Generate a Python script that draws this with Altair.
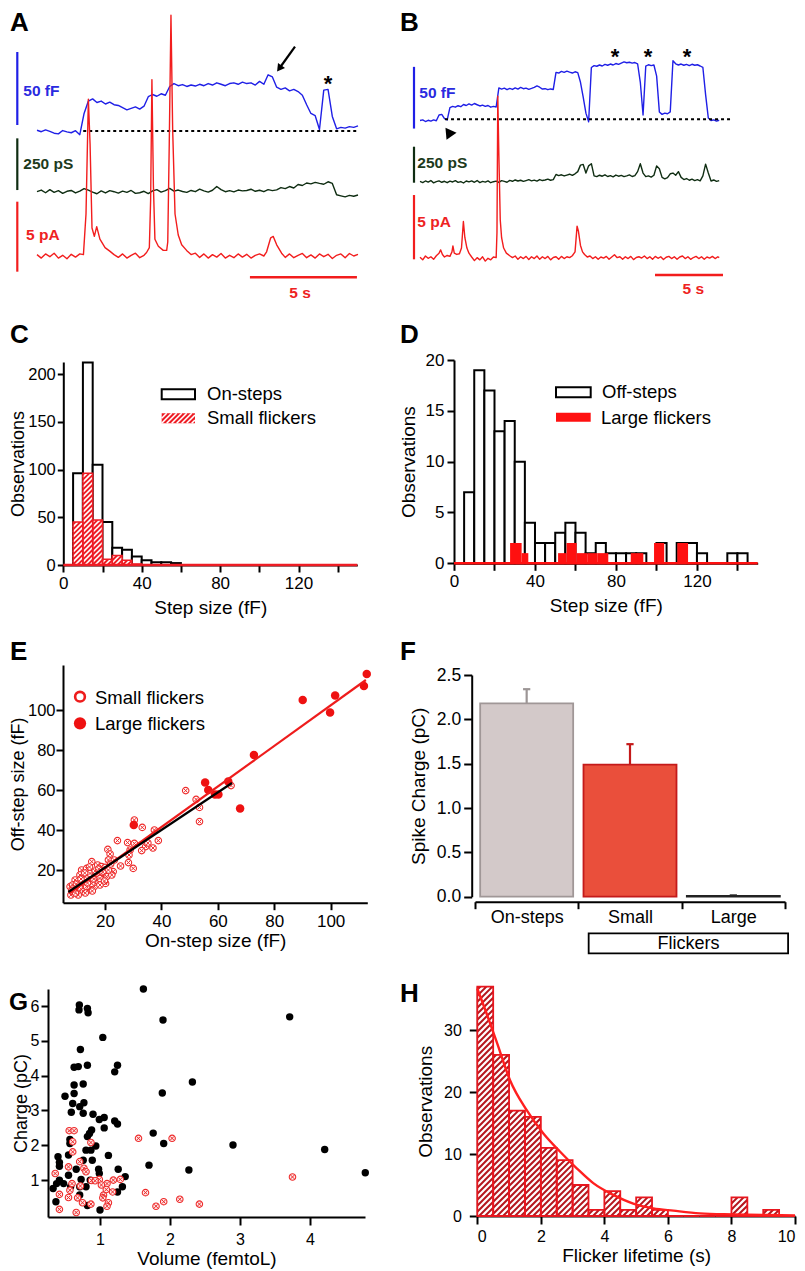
import math
import altair as alt
import pandas as pd

# ============================ DATA ============================
# ---- A : example recording, traces sampled every 0.2 s (0-15 s)
A_DT = 0.2
a_capacitance_fF = [0.5, -0.5, 0.8, -0.3, -1.5, -2.0, 0.3, -0.6, -1.2, 0.2,
                    -2.5, 12, 20.5, 22, 19.5, 20.5, 18.5, 19.8, 18, 17.5,
                    16, 14.5, 15.5, 16.5, 15, 17, 23.5, 25, 23.8, 25.5,
                    24.5, 30.5, 32.5, 31, 31.8, 30.5, 31.5, 30.8, 32, 31,
                    32.5, 31.5, 33, 32, 31, 32.5, 33, 32, 33.5, 32.5,
                    33, 31.5, 34, 32, 38.5, 37, 30, 28.5, 29.5, 27.5,
                    28.5, 27, 24.5, 18, 12, 10.5, 1, 28, 28.5, 10,
                    1.5, 2.5, 2, 3, 2.5, 3.5]
a_conductance_pS = [0, 8, -5, 10, -3, 5, -8, 2, 6, -6,
                    3, 15, 8, -2, -10, 4, -6, 5, 0, -7,
                    3, -3, 6, -8, -5, 2, -9, 4, 10, -2,
                    5, 16, 3, 8, 1, -3, 6, 0, 12, 4,
                    -2, 7, 25, 10, 0, 5, -1, 8, 4, 6,
                    12, 2, 7, 0, 10, 5, 9, 20, 15, 25,
                    18, 35, 30, 42, 38, 45, 40, 36, 48, 40,
                    -15, -20, -25, -18, -22, -16]
a_current_pts = [(0, 0.1), (0.2, -0.15), (0.4, 0.15), (0.6, -0.05), (0.8, 0.2), (1.0, -0.15),
                 (1.2, 0.05), (1.4, -0.2), (1.6, 0.12), (1.8, -0.08), (2.0, 0.15), (2.17, 0.1),
                 (2.29, 3.0), (2.40, 11.2), (2.48, 8.0), (2.57, 2.0), (2.68, 1.4), (2.79, 2.1),
                 (2.94, 1.2), (3.18, 0.6), (3.4, 0.35), (3.6, 0.1), (3.8, -0.1), (4.0, 0.15),
                 (4.2, -0.15), (4.4, 0.05), (4.6, 0.2), (4.8, -0.12), (5.0, 0.05), (5.12, 0.25),
                 (5.25, 0.6), (5.31, 4.0), (5.37, 12.6), (5.44, 5.0), (5.51, 1.2), (5.67, 0.7),
                 (5.9, 0.4), (6.06, 0.4), (6.11, 1.0), (6.18, 8.0), (6.26, 17.2), (6.34, 9.0),
                 (6.45, 3.0), (6.6, 1.5), (6.76, 0.8), (6.99, 0.4), (7.2, 0.1), (7.4, 0.2),
                 (7.6, -0.1), (7.8, 0.15), (8.0, -0.15), (8.2, 0.1), (8.4, -0.08), (8.6, 0.18),
                 (8.8, -0.15), (9.0, 0.05), (9.2, -0.12), (9.4, 0.15), (9.6, -0.08), (9.8, 0.12),
                 (10.0, -0.15), (10.2, 0.05), (10.4, 0.15), (10.6, 0.0), (10.73, 0.3), (10.92, 1.3),
                 (11.04, 1.4), (11.2, 0.8), (11.43, 0.2), (11.6, -0.1), (11.8, 0.15), (12.0, -0.12),
                 (12.2, 0.05), (12.4, 0.18), (12.6, -0.12), (12.8, 0.08), (13.0, -0.15), (13.2, 0.15),
                 (13.4, -0.05), (13.6, 0.12), (13.8, -0.18), (14.0, 0.05), (14.2, 0.15), (14.4, -0.12),
                 (14.6, 0.18), (14.8, 0.0), (15.0, 0.12)]
a_baseline_s = [2.16, 14.94]
a_timebar_s = [9.95, 14.95]

# ---- B : example recording, traces sampled every 0.2 s (0-22 s)
B_DT = 0.2
b_capacitance_fF = [-1, -0.5, -1.8, -0.8, -1.5, -0.5, -1.2, 3.5, 4, 0.5,
                    -0.5, 9.5, 10.5, 9.8, 11, 10.2, 12, 11.2, 12.5, 11.5,
                    12.8, 11.8, 10.8, 11.5, 10.5, 11.2, 9.8, 10.5, 10, 25.5,
                    24.5, 25.2, 24, 25, 24.2, 25.5, 24.5, 25.8, 24.8, 25.3,
                    24.3, 25, 25.8, 27, 26, 24.5, 24.8, 24, 24.6, 24.2,
                    38, 37.5, 38.8, 38, 39, 38.2, 37.5, 38.5, 37.8, 30,
                    18, 5, -2, 42, 43.5, 43, 44, 43.2, 44.5, 43.8,
                    44.8, 44, 45.2, 44.5, 45.5, 46.5, 45.8, 46.2, 45.5, 46,
                    45, 30, 3.5, 43, 44.2, 43.5, 44, 35, 6, 4,
                    5, 4.5, 6, 47.5, 45, 44, 44.8, 43.8, 44.5, 43.5,
                    44.6, 43.8, 44.2, 43.2, 42, 20, 1, -1, -0.5, -1.5, -0.8]
b_conductance_pS = [2, -6, 5, -3, 8, -8, 0, 6, -4, 3,
                    -7, 4, -2, 7, -5, 1, -9, 5, -1, 6,
                    -4, 8, -6, 2, -3, 6, -7, 0, 4, -5,
                    7, 2, -4, 9, 3, 12, 5, 10, 2, 8,
                    14, 6, 11, 4, 15, 8, 12, 18, 10, 14,
                    50, 42, 48, 40, 46, 52, 44, 55, 70, 115,
                    120, 60, 110, 125, 40, 35, 45, 38, 48, 36,
                    42, 34, 46, 38, 44, 35, 40, 47, 36, 42,
                    70, 125, 60, 35, 40, 32, 45, 110, 90, 30,
                    20, 28, 55, 60, 45, 70, 30, 15, 22, 10,
                    18, 8, 14, 6, 40, 122, 60, 5, 12, 2, 8]
b_current_pts = [(0, 0.08), (0.2, -0.12), (0.4, 0.18), (0.6, 0.0), (0.8, 0.12), (1.0, -0.08),
                 (1.2, 0.2), (1.4, 0.4), (1.52, 0.65), (1.65, 0.3), (1.8, 0.1), (2.0, 0.22),
                 (2.2, 0.15), (2.35, 0.5), (2.42, 0.96), (2.52, 0.4), (2.7, 0.3), (2.9, 0.35),
                 (3.05, 0.8), (3.19, 2.86), (3.3, 1.6), (3.45, 0.8), (3.6, 0.4), (3.8, 0.1),
                 (4.0, -0.18), (4.2, 0.05), (4.4, -0.12), (4.6, 0.12), (4.8, -0.22), (5.0, 0.0),
                 (5.2, -0.12), (5.4, 0.1), (5.6, 0.05), (5.66, 2.0), (5.72, 12.6), (5.8, 8.0),
                 (5.9, 3.0), (6.0, 1.6), (6.15, 0.8), (6.35, 0.4), (6.6, 0.2), (6.8, 0.05),
                 (7.0, 0.18), (7.2, -0.08), (7.4, 0.12), (7.6, -0.02), (7.8, 0.15), (8.0, -0.1),
                 (8.2, 0.12), (8.4, -0.02), (8.6, 0.18), (8.8, -0.08), (9.0, 0.12), (9.2, -0.02),
                 (9.4, 0.15), (9.6, -0.12), (9.8, 0.06), (10.0, 0.12), (10.2, -0.08), (10.4, 0.15),
                 (10.6, -0.02), (10.8, 0.12), (11.0, 0.05), (11.2, 0.2), (11.4, 0.5), (11.55, 2.5),
                 (11.65, 2.1), (11.8, 1.0), (11.95, 0.5), (12.1, 0.3), (12.3, 0.1), (12.5, 0.18),
                 (12.7, -0.02), (12.9, 0.12), (13.1, -0.08), (13.3, 0.1), (13.5, 0.02), (13.7, 0.15),
                 (13.9, -0.08), (14.1, 0.1), (14.3, 0.28), (14.5, 0.05), (14.7, 0.12), (14.9, -0.08),
                 (15.1, 0.12), (15.3, -0.02), (15.5, 0.15), (15.7, -0.1), (15.9, 0.06), (16.1, 0.12),
                 (16.3, 0.02), (16.5, 0.18), (16.7, -0.02), (16.9, 0.12), (17.1, -0.08), (17.3, 0.15),
                 (17.5, 0.0), (17.7, 0.12), (17.9, -0.1), (18.1, 0.08), (18.3, 0.15), (18.5, -0.02),
                 (18.7, 0.12), (18.9, -0.08), (19.1, 0.1), (19.3, 0.18), (19.5, -0.02), (19.7, 0.12),
                 (19.9, -0.08), (20.1, 0.06), (20.3, 0.15), (20.5, -0.02), (20.7, 0.12), (20.9, -0.08),
                 (21.1, 0.1), (21.3, 0.02), (21.5, 0.15), (21.7, -0.02), (21.9, 0.12), (22.0, 0.05)]
b_baseline_s = [1.84, 23.0]
b_timebar_s = [17.28, 22.28]

# ---- C : step-size histogram (5 fF bins from 0 to 150 fF)
c_bin_lo = list(range(0, 150, 5))
c_on_steps = [0, 96, 212, 105, 45, 18, 16, 9, 5, 3, 3, 2] + [0] * 18
c_small_flickers = [0, 45, 96, 47, 6, 10, 5, 1] + [0] * 22

# ---- D : off-step histogram and large flickers
d_bin_lo = list(range(0, 150, 5))
d_off_steps = [0, 7, 19, 17, 13, 14, 10, 4, 2, 2, 3, 4, 3, 1, 2,
               1, 1, 1, 1, 0, 2, 0, 2, 2, 1, 0, 0, 1, 1, 0]
d_large_lo = [27.7, 33.4, 51.4, 55.6, 60.6, 65.8, 71.0, 87.3, 98.8, 110.3]
d_large_hi = [33.4, 36.7, 55.6, 60.6, 65.8, 71.0, 76.2, 93.5, 103.8, 115.6]
d_large_n = [2, 1, 1, 2, 1, 1, 1, 1, 2, 2]

# ---- E : off-step vs on-step size
e_small_on = [48.6, 52.3, 53.5, 53.5, 64.7, 30.4, 33.2, 37.5, 38.9, 24.4, 28, 30.4, 34.4, 33,
              28.9, 28.5, 21, 21.8, 21.2, 23.3, 22.9, 20.2, 28.3, 30, 15.3, 17.4, 18.8, 20,
              11.7, 13.5, 11.1, 9.4, 7.6, 7.9, 10, 12.3, 14.1, 15.9, 17.6, 17, 19.4, 16.2,
              14.1, 12.3, 10.5, 18.2, 20.6, 22.4, 9.1, 12.9, 14.7, 13.5, 11.1, 18.2, 15.3, 21.2,
              8.5, 9.8, 10.8, 11.5, 12.8, 13.8, 14.5, 16.5, 17.8, 19.2, 16, 8.2, 9.5, 13,
              15.5, 19.8, 25.5, 22, 35.2, 37]
e_small_off = [59.7, 55.3, 51.3, 44.2, 62.2, 45, 41.3, 40, 34.7, 34.7, 33.7, 33.3, 31.7, 29.7,
               30, 27.5, 30.3, 28, 25, 25, 19.2, 13.3, 23.7, 20.8, 24.2, 22.5, 21.7, 21.3,
               20, 20.8, 17.5, 15, 11.7, 7.5, 10, 13.3, 15, 17.5, 18.3, 15, 17.5, 11.7,
               10, 9.2, 7.5, 15.8, 16.7, 17.5, 10.8, 16.7, 18.3, 11.7, 13.3, 12.5, 13.3, 20,
               12.5, 13, 11.5, 15.5, 18.5, 13.5, 21.5, 19.5, 20.5, 19, 15.5, 9.5, 8.5, 8.5,
               9.5, 14.5, 22, 23, 33.5, 31]
e_large_on = [30.2, 55.5, 56.6, 59.0, 60.2, 63.7, 67.9, 72.8, 90.1, 99.8, 101.6, 111.8, 112.8]
e_large_off = [42.5, 63.7, 60.0, 57.8, 57.8, 64.2, 50.8, 77.5, 105.0, 98.7, 107.2, 112.0, 118.0]
e_fit_all_x = [7.5, 112.5]
e_fit_all_y = [8.5, 115.0]
e_fit_small_x = [7.0, 65.0]
e_fit_small_y = [9.0, 63.5]

# ---- F : spike charge
f_groups = ["On-steps", "Small", "Large"]
f_mean = [2.18, 1.49, 0.01]
f_sem = [0.16, 0.23, 0.005]
f_bracket_label = "Flickers"

# ---- G : charge vs volume
g_black_vol = [1.62, 1.90, 3.71, 0.705, 0.70, 0.82, 0.83, 1.04, 0.72, 0.63, 0.69, 0.82, 1.21, 1.25,
               2.32, 0.63, 0.76, 0.63, 1.89, 0.50, 0.61, 0.77, 0.71, 0.59, 0.76, 0.90, 0.99, 1.06,
               1.21, 1.25, 1.06, 0.88, 0.85, 0.82, 1.76, 1.91, 2.90, 4.21, 0.57, 0.57, 0.94, 0.80,
               0.87, 0.89, 1.12, 0.55, 0.40, 0.42, 0.42, 0.76, 1.70, 2.27, 4.79, 0.55, 0.66, 0.98,
               0.99, 1.26, 1.36, 0.42, 0.48, 0.38, 0.33, 0.58, 0.71, 0.80, 0.86, 0.73, 1.32, 1.25,
               0.71, 0.37, 0.82, 1.00]
g_black_charge = [6.49, 5.60, 5.69, 6.03, 5.89, 5.93, 5.81, 5.10, 4.75, 4.24, 4.26, 4.30, 4.11, 4.30,
                  3.82, 3.73, 3.76, 3.49, 3.50, 3.41, 3.20, 3.22, 3.11, 2.95, 2.92, 2.89, 2.74, 2.80,
                  2.70, 2.61, 2.50, 2.44, 2.34, 2.25, 2.35, 2.05, 2.01, 1.88, 2.17, 2.05, 1.98, 1.86,
                  1.86, 1.57, 1.71, 1.72, 1.67, 1.51, 1.40, 1.57, 1.43, 1.29, 1.21, 1.14, 1.31, 1.31,
                  1.19, 1.31, 1.10, 1.00, 0.90, 0.90, 0.76, 0.81, 0.81, 0.81, 1.00, 1.02, 0.81, 0.66,
                  0.57, 0.38, 0.27, 0.14]
g_red_vol = [0.56, 0.63, 0.61, 0.87, 1.55, 2.03, 0.61, 0.55, 0.71, 0.77, 0.80, 0.36, 0.88, 0.99,
             0.93, 1.10, 1.02, 1.19, 1.29, 0.60, 0.72, 0.57, 0.42, 1.05, 1.04, 1.09, 1.18, 0.55,
             0.68, 0.75, 1.12, 1.10, 0.42, 0.66, 0.87, 1.65, 1.80, 1.91, 2.14, 2.42, 3.75]
g_red_charge = [2.42, 2.42, 2.10, 2.08, 2.20, 2.20, 1.81, 1.38, 1.53, 1.34, 1.24, 1.19, 0.99, 1.02,
                0.98, 0.90, 0.86, 1.00, 1.02, 0.90, 0.83, 0.71, 0.59, 0.57, 0.49, 0.73, 0.66, 0.50,
                0.49, 0.35, 0.35, 0.25, 0.16, 0.07, 0.31, 0.64, 0.25, 0.38, 0.45, 0.31, 1.09]

# ---- H : flicker lifetime histogram (0.5 s bins) and fitted curve
h_bin_lo = [0, 0.5, 1, 1.5, 2, 2.5, 3, 3.5, 4, 4.5, 5, 5.5, 6, 6.5, 7, 7.5, 8, 8.5, 9, 9.5]
h_counts = [37, 26, 17, 16, 11, 9, 5, 1, 4, 1, 3, 1, 0, 0, 0, 0, 3, 0, 1, 0]
h_fit_t = [0, 0.29, 0.61, 1.03, 1.55, 2.08, 2.6, 3.13, 3.65, 4.28, 4.91, 5.54, 6.17, 7.0, 8.06, 9.1, 10.0]
h_fit_n = [36.7, 32.7, 28.1, 21.9, 17.1, 13.3, 10.4, 7.7, 5.3, 3.4, 2.0, 1.24, 0.86, 0.43, 0.27, 0.16, 0.1]

# ============================ LAYOUT / STYLE ============================
OFF = 8                     # page margin
W, H = 789, 1263
FONT = "Liberation Sans"
BLUE, GREEN, RED = "#1f1fe6", "#0f2d12", "#f21d1d"
DUMMY = pd.DataFrame({"d": [0]})

GEO = {  # (domain, figure-pixel range)
    "A_x": ([0, 15], [37, 358]), "A_cap": ([0, 50], [131, 58]),
    "A_cond": ([0, 250], [191.7, 140]), "A_cur": ([0, 5], [256, 186]),
    "B_x": ([0, 22], [420, 719.2]), "B_cap": ([0, 50], [119.3, 57.6]),
    "B_cond": ([0, 250], [181.7, 145.7]), "B_cur": ([0, 5], [258.3, 194]),
    "C_x": ([0, 150], [63.3, 357.3]), "C_y": ([0, 212.6], [565, 362]),
    "D_x": ([0, 150], [454, 757.7]), "D_y": ([0, 20], [563.3, 360]),
    "E_x": ([5.1, 113], [63, 367.3]), "E_y": ([3.65, 122.5], [902.7, 665]),
    "F_x": ([0, 3], [475, 785]), "F_y": ([0, 2.5], [896.7, 675]),
    "G_x": ([0.257, 4.786], [48, 365]), "G_y": ([-0.06, 6.49], [1217, 989]),
    "H_x": ([0, 10], [477.3, 795]), "H_y": ([0, 37], [1216, 986.6]),
    "PX": ([0, 805], [0, 805]), "PY": ([0, 1271], [0, 1271]),
}


def P(v):
    return v - OFF


def S(key):
    dom, rng = GEO[key]
    return alt.Scale(domain=list(dom), range=[P(rng[0]), P(rng[1])], nice=False, zero=False)


def M(key):
    (d0, d1), (r0, r1) = GEO[key]
    return (lambda v: r0 + (v - d0) * (r1 - r0) / (d1 - d0),
            lambda p: d0 + (p - r0) * (d1 - d0) / (r1 - r0))


def yaxis(fig_x, title, values, tick=7, pad=3, tpad=6, lsize=17, tsize=19, fmt=None):
    kw = dict(orient="left", offset=-P(fig_x), values=values, title=title, tickSize=tick,
              labelPadding=pad, titlePadding=tpad, labelFontSize=lsize, titleFontSize=tsize,
              labelOverlap=False)
    if fmt:
        kw["format"] = fmt
    return alt.Axis(**kw)


def xaxis(fig_y, title, values, tick=7, pad=3, tpad=6, lsize=17, tsize=19, expr=None, loff=0,
          flush=False):
    kw = dict(orient="bottom", offset=P(fig_y) - H, values=values, tickSize=tick,
              labelPadding=pad, titlePadding=tpad, labelFontSize=lsize, titleFontSize=tsize,
              labelOverlap=False, labelFlush=flush)
    kw["title"] = title if title else None
    if expr:
        kw["labelExpr"] = expr
    if loff:
        kw["labelOffset"] = loff
    return alt.Axis(**kw)


def text(s, x, y, size=18, color="black", weight="normal", align="left", baseline="middle"):
    return alt.Chart(DUMMY).mark_text(text=s, font=FONT, fontSize=size, fontWeight=weight,
                                      color=color, align=align, baseline=baseline).encode(
        x=alt.value(P(x)), y=alt.value(P(y)))


def hatch_df(rects, xkey, ykey, period):
    fx, ix = M(xkey)
    fy, iy = M(ykey)
    rows = []
    for (x0, x1, y0, y1) in rects:
        X0, X1 = sorted((fx(x0), fx(x1)))
        Yt, Yb = sorted((fy(y0), fy(y1)))
        if Yb - Yt < 0.5:
            continue
        U0, U1 = -Yb, -Yt
        k0 = math.ceil((U0 - X1) / period)
        k1 = math.floor((U1 - X0) / period)
        for k in range(k0, k1 + 1):
            c = k * period
            xs, xe = max(X0, U0 - c), min(X1, U1 - c)
            if xe - xs > 0.4:
                rows.append(dict(hx=ix(xs), hy=iy(-(xs + c)), hx2=ix(xe), hy2=iy(-(xe + c))))
    return pd.DataFrame(rows)


def hatch_layer(df, xkey, ykey, width):
    return alt.Chart(df).mark_rule(color="white", strokeWidth=width, strokeCap="butt").encode(
        x=alt.X("hx:Q", scale=S(xkey), axis=None), y=alt.Y("hy:Q", scale=S(ykey), axis=None),
        x2="hx2:Q", y2="hy2:Q")


def line(df, xkey, ykey, color, w=1.4):
    return alt.Chart(df).mark_line(color=color, strokeWidth=w, strokeJoin="round").encode(
        x=alt.X("t:Q", scale=S(xkey), axis=None), y=alt.Y("v:Q", scale=S(ykey), axis=None))


def vbar(x_fig, lo, hi, ykey, color):
    return alt.Chart(DUMMY).mark_rule(color=color, strokeWidth=2.2).encode(
        x=alt.value(P(x_fig)), y=alt.YDatum(lo, scale=S(ykey), axis=None), y2=alt.Y2Datum(hi))


def hbar(lo, hi, xkey, y_fig, color):
    return alt.Chart(DUMMY).mark_rule(color=color, strokeWidth=2.5).encode(
        x=alt.XDatum(lo, scale=S(xkey), axis=None), x2=alt.X2Datum(hi), y=alt.value(P(y_fig)))


def dotted(lo, hi, xkey, ykey):
    return alt.Chart(DUMMY).mark_rule(color="black", strokeWidth=2, strokeDash=[3, 3]).encode(
        x=alt.XDatum(lo, scale=S(xkey), axis=None), x2=alt.X2Datum(hi),
        y=alt.YDatum(0, scale=S(ykey), axis=None))


def sampled(vals, dt):
    return pd.DataFrame({"t": [round(i * dt, 3) for i in range(len(vals))], "v": vals})


def pts(pairs):
    return pd.DataFrame({"t": [p[0] for p in pairs], "v": [p[1] for p in pairs]})


layers = []

# ---------------------------- A ----------------------------
layers += [
    line(sampled(a_capacitance_fF, A_DT), "A_x", "A_cap", BLUE),
    dotted(a_baseline_s[0], a_baseline_s[1], "A_x", "A_cap"),
    line(sampled(a_conductance_pS, A_DT), "A_x", "A_cond", GREEN),
    line(pts(a_current_pts), "A_x", "A_cur", RED),
    vbar(17.3, 4.1, 54.1, "A_cap", BLUE),
    vbar(17.3, 8, 258, "A_cond", GREEN),
    vbar(17.3, -1.12, 3.88, "A_cur", RED),
    hbar(a_timebar_s[0], a_timebar_s[1], "A_x", 277.3, RED),
    text("50 fF", 23.3, 91, 15.5, "#2a2ae0", "bold"),
    text("250 pS", 23.3, 164, 15.5, "#1d3b1d", "bold"),
    text("5 pA", 26, 235, 15.5, "#ee2222", "bold"),
    text("5 s", 300, 293, 15.5, "#ee2222", "bold", align="center"),
    text("*", 328, 91, 22, "black", "bold", align="center", baseline="alphabetic"),
    alt.Chart(DUMMY).mark_rule(color="black", strokeWidth=2.2).encode(
        x=alt.value(P(295)), y=alt.value(P(46.7)), x2=alt.value(P(280)), y2=alt.value(P(67.5))),
    alt.Chart(DUMMY).mark_point(shape="triangle-up", filled=True, color="black", size=75,
                                angle=216, opacity=1).encode(x=alt.value(P(279.3)), y=alt.value(P(68.5))),
]

# ---------------------------- B ----------------------------
layers += [
    line(sampled(b_capacitance_fF, B_DT), "B_x", "B_cap", BLUE),
    dotted(b_baseline_s[0], b_baseline_s[1], "B_x", "B_cap"),
    line(sampled(b_conductance_pS, B_DT), "B_x", "B_cond", GREEN),
    line(pts(b_current_pts), "B_x", "B_cur", RED),
    vbar(414, -7.5, 42.5, "B_cap", BLUE),
    vbar(414, -7, 243, "B_cond", GREEN),
    vbar(414, -0.08, 4.92, "B_cur", RED),
    hbar(b_timebar_s[0], b_timebar_s[1], "B_x", 275, RED),
    text("50 fF", 419.3, 93, 15.5, "#2a2ae0", "bold"),
    text("250 pS", 417.3, 163, 15.5, "#1d3b1d", "bold"),
    text("5 pA", 417.3, 222, 15.5, "#ee2222", "bold"),
    text("5 s", 693.3, 288.5, 15.5, "#ee2222", "bold", align="center"),
    text("*", 615, 64, 22, "black", "bold", align="center", baseline="alphabetic"),
    text("*", 648, 64, 22, "black", "bold", align="center", baseline="alphabetic"),
    text("*", 687, 64, 22, "black", "bold", align="center", baseline="alphabetic"),
    alt.Chart(DUMMY).mark_point(shape="triangle-up", filled=True, color="black", size=150,
                                angle=325, opacity=1).encode(x=alt.value(P(448.5)), y=alt.value(P(132))),
]

# ---------------------------- C ----------------------------
c_df = pd.DataFrame({"lo": c_bin_lo, "hi": [v + 5 for v in c_bin_lo],
                     "on": c_on_steps, "small": c_small_flickers})
c_small_df = c_df[c_df["small"] > 0]
layers += [
    alt.Chart(c_df[c_df["on"] > 0]).mark_rect(fill="white", stroke="black", strokeWidth=2).encode(
        x=alt.X("lo:Q", scale=S("C_x"), axis=xaxis(565, "Step size (fF)", list(range(0, 150, 20)),
                expr="datum.value % 40 === 0 ? datum.label : ''", pad=3.5, tpad=7)),
        x2="hi:Q",
        y=alt.Y("on:Q", scale=S("C_y"), axis=yaxis(63.3, "Observations", [0, 50, 100, 150, 200],
                                                  tick=6, pad=2, tpad=0, lsize=16.5, tsize=18)),
        y2=alt.Y2Datum(0)),
    alt.Chart(c_small_df).mark_rect(fill="#ee1c24").encode(
        x=alt.X("lo:Q", scale=S("C_x"), axis=None), x2="hi:Q",
        y=alt.Y("small:Q", scale=S("C_y"), axis=None), y2=alt.Y2Datum(0)),
    hatch_layer(hatch_df([(r.lo, r.hi, 0, r.small) for r in c_small_df.itertuples()], "C_x", "C_y", 5.0),
                "C_x", "C_y", 1.6),
    alt.Chart(c_small_df).mark_rect(fillOpacity=0, stroke="#ee1c24", strokeWidth=1.5).encode(
        x=alt.X("lo:Q", scale=S("C_x"), axis=None), x2="hi:Q",
        y=alt.Y("small:Q", scale=S("C_y"), axis=None), y2=alt.Y2Datum(0)),
    alt.Chart(DUMMY).mark_rule(color="#ee1c24", strokeWidth=2.5).encode(
        x=alt.XDatum(c_bin_lo[0], scale=S("C_x"), axis=None), x2=alt.X2Datum(c_bin_lo[-1] + 5),
        y=alt.YDatum(0, scale=S("C_y"), axis=None)),
    # legend
    alt.Chart(DUMMY).mark_rect(fill="white", stroke="black", strokeWidth=2).encode(
        x=alt.value(P(161.7)), x2=alt.value(P(195)), y=alt.value(P(389.3)), y2=alt.value(P(399.3))),
    alt.Chart(DUMMY).mark_rect(fill="#ee1c24").encode(
        x=alt.value(P(161.7)), x2=alt.value(P(195)), y=alt.value(P(413.3)), y2=alt.value(P(423.3))),
    hatch_layer(hatch_df([(161.7, 195, 413.3, 423.3)], "PX", "PY", 5.0), "PX", "PY", 1.6),
    text("On-steps", 207, 393.5, 18.5),
    text("Small flickers", 207, 418, 18.5),
]

# ---------------------------- D ----------------------------
d_df = pd.DataFrame({"lo": d_bin_lo, "hi": [v + 5 for v in d_bin_lo], "n": d_off_steps})
d_large_df = pd.DataFrame({"lo": d_large_lo, "hi": d_large_hi, "n": d_large_n})
layers += [
    alt.Chart(d_df[d_df["n"] > 0]).mark_rect(fill="white", stroke="black", strokeWidth=2).encode(
        x=alt.X("lo:Q", scale=S("D_x"), axis=xaxis(563.3, "Step size (fF)", list(range(0, 150, 20)),
                expr="datum.value % 40 === 0 ? datum.label : ''", pad=3, tpad=7)),
        x2="hi:Q",
        y=alt.Y("n:Q", scale=S("D_y"), axis=yaxis(454, "Observations", [0, 5, 10, 15, 20], tpad=7)),
        y2=alt.Y2Datum(0)),
    alt.Chart(d_large_df).mark_rect(fill="#ff1010").encode(
        x=alt.X("lo:Q", scale=S("D_x"), axis=None), x2="hi:Q",
        y=alt.Y("n:Q", scale=S("D_y"), axis=None), y2=alt.Y2Datum(0)),
    alt.Chart(DUMMY).mark_rule(color="#ff1010", strokeWidth=2.5).encode(
        x=alt.XDatum(d_bin_lo[0], scale=S("D_x"), axis=None), x2=alt.X2Datum(d_bin_lo[-1] + 5),
        y=alt.YDatum(0, scale=S("D_y"), axis=None)),
    alt.Chart(DUMMY).mark_rect(fill="white", stroke="black", strokeWidth=2).encode(
        x=alt.value(P(556)), x2=alt.value(P(590.7)), y=alt.value(P(387.3)), y2=alt.value(P(397.3))),
    alt.Chart(DUMMY).mark_rect(fill="#ff1010").encode(
        x=alt.value(P(556)), x2=alt.value(P(590.7)), y=alt.value(P(412.7)), y2=alt.value(P(421.7))),
    text("Off-steps", 602, 391.5, 18.5),
    text("Large flickers", 601, 417.5, 18.5),
]

# ---------------------------- E ----------------------------
CROSS = "M-0.6,-0.6L0.6,0.6M-0.6,0.6L0.6,-0.6"
e_small = pd.DataFrame({"on": e_small_on, "off": e_small_off})
e_large = pd.DataFrame({"on": e_large_on, "off": e_large_off})
e_fit_all = pd.DataFrame({"t": e_fit_all_x, "v": e_fit_all_y})
e_fit_small = pd.DataFrame({"t": e_fit_small_x, "v": e_fit_small_y})
layers += [
    alt.Chart(e_small).mark_point(shape="circle", filled=True, fill="white", stroke="#ee2a2a",
                                  strokeWidth=1.1, size=42, opacity=1).encode(
        x=alt.X("on:Q", scale=S("E_x"), axis=xaxis(902.7, "On-step size (fF)", [20, 40, 60, 80, 100],
                                                  pad=3.5, tpad=2.5)),
        y=alt.Y("off:Q", scale=S("E_y"), axis=yaxis(63, "Off-step size (fF)", [20, 40, 60, 80, 100],
                                                   tick=7, pad=1, tpad=0, lsize=16.5, tsize=18))),
    alt.Chart(e_small).mark_point(shape=CROSS, filled=False, stroke="#ee2a2a", strokeWidth=1,
                                  size=42, opacity=1).encode(
        x=alt.X("on:Q", scale=S("E_x"), axis=None), y=alt.Y("off:Q", scale=S("E_y"), axis=None)),
    alt.Chart(e_large).mark_point(shape="circle", filled=True, color="#ee1111", size=72, opacity=1).encode(
        x=alt.X("on:Q", scale=S("E_x"), axis=None), y=alt.Y("off:Q", scale=S("E_y"), axis=None)),
    line(e_fit_all, "E_x", "E_y", "#ee1c1c", 2.2),
    line(e_fit_small, "E_x", "E_y", "black", 2.2),
    alt.Chart(DUMMY).mark_point(shape="circle", filled=True, fill="white", stroke="#ee1c1c",
                                strokeWidth=2.6, size=95, opacity=1).encode(
        x=alt.value(P(80)), y=alt.value(P(696.7))),
    alt.Chart(DUMMY).mark_point(shape="circle", filled=True, color="#ee1111", size=150, opacity=1).encode(
        x=alt.value(P(80)), y=alt.value(P(723.3))),
    text("Small flickers", 95, 697.5, 18.5),
    text("Large flickers", 95, 724, 18.5),
]

# ---------------------------- F ----------------------------
F_FILL = ["#d3c9c9", "#ea4f3b", "#555555"]
F_STROKE = ["#a09797", "#c41a1a", "#222222"]
F_ERR = ["#9c9595", "#c41a1a", "#333333"]
F_INSET, F_CAP = 0.05, 0.035
f_labels_expr = " : ".join(f"datum.value == {i} ? '{g}'" for i, g in enumerate(f_groups)) + " : ''"
for i, g in enumerate(f_groups):
    row = pd.DataFrame({"lo": [i + F_INSET], "hi": [i + 1 - F_INSET], "mid": [i + 0.5],
                        "m": [f_mean[i]], "top": [f_mean[i] + f_sem[i]],
                        "cl": [i + 0.5 - F_CAP], "cr": [i + 0.5 + F_CAP]})
    if i == 0:
        xa = xaxis(901.7, None, [0, 1, 2, 3], tick=7, pad=0, lsize=18, expr=f_labels_expr,
                   loff=(GEO["F_x"][1][1] - GEO["F_x"][1][0]) / 6)
        ya = yaxis(471.7, "Spike Charge (pC)", [0, 0.5, 1, 1.5, 2, 2.5], tick=8, pad=3, tpad=8,
                   fmt=".1f", lsize=17.5)
    else:
        xa, ya = None, None
    layers += [
        alt.Chart(row).mark_rule(color=F_ERR[i], strokeWidth=2.2).encode(
            x=alt.X("mid:Q", scale=S("F_x"), axis=None), y=alt.Y("m:Q", scale=S("F_y"), axis=None),
            y2="top:Q"),
        alt.Chart(row).mark_rule(color=F_ERR[i], strokeWidth=2.2).encode(
            x=alt.X("cl:Q", scale=S("F_x"), axis=None), x2="cr:Q",
            y=alt.Y("top:Q", scale=S("F_y"), axis=None)),
        alt.Chart(row).mark_rect(fill=F_FILL[i], stroke=F_STROKE[i], strokeWidth=1.8).encode(
            x=alt.X("lo:Q", scale=S("F_x"), axis=xa), x2="hi:Q",
            y=alt.Y("m:Q", scale=S("F_y"), axis=ya), y2=alt.Y2Datum(0)),
    ]
layers += [
    alt.Chart(DUMMY).mark_rect(fill="white", stroke="black", strokeWidth=1.8).encode(
        x=alt.XDatum(1.1, scale=S("F_x"), axis=None), x2=alt.X2Datum(3.03),
        y=alt.value(P(933.3)), y2=alt.value(P(953.3))),
    alt.Chart(DUMMY).mark_text(text=f_bracket_label, font=FONT, fontSize=18, align="center",
                               baseline="middle", color="black").encode(
        x=alt.XDatum(2.065, scale=S("F_x"), axis=None), y=alt.value(P(944))),
]

# ---------------------------- G ----------------------------
g_black = pd.DataFrame({"vol": g_black_vol, "q": g_black_charge})
g_red = pd.DataFrame({"vol": g_red_vol, "q": g_red_charge})
layers += [
    alt.Chart(g_black).mark_point(shape="circle", filled=True, color="black", size=55, opacity=1).encode(
        x=alt.X("vol:Q", scale=S("G_x"), axis=xaxis(1217, "Volume (femtoL)", [1, 2, 3, 4], tick=8,
                                                    pad=6.5, tpad=1.5, lsize=16, tsize=19)),
        y=alt.Y("q:Q", scale=S("G_y"), axis=yaxis(48, "Charge (pC)", [1, 2, 3, 4, 5, 6], tick=7,
                                                 pad=2, tpad=0, lsize=16, tsize=18))),
    alt.Chart(g_red).mark_point(shape="circle", filled=True, fill="#fde8e8", stroke="#ee2a2a",
                                strokeWidth=1.1, size=42, opacity=1).encode(
        x=alt.X("vol:Q", scale=S("G_x"), axis=None), y=alt.Y("q:Q", scale=S("G_y"), axis=None)),
    alt.Chart(g_red).mark_point(shape=CROSS, filled=False, stroke="#ee2a2a", strokeWidth=1,
                                size=42, opacity=1).encode(
        x=alt.X("vol:Q", scale=S("G_x"), axis=None), y=alt.Y("q:Q", scale=S("G_y"), axis=None)),
]

# ---------------------------- H ----------------------------
h_df = pd.DataFrame({"lo": h_bin_lo, "hi": [v + 0.5 for v in h_bin_lo], "n": h_counts})
h_fit = pd.DataFrame({"t": h_fit_t, "v": h_fit_n})
layers += [
    alt.Chart(h_df).mark_rect(fill="#b5161d").encode(
        x=alt.X("lo:Q", scale=S("H_x"), axis=xaxis(1216, "Flicker lifetime (s)", [0, 2, 4, 6, 8, 10],
                                                  tick=8, pad=4.5, tpad=2, lsize=16, tsize=19,
                                                  flush=True)),
        x2="hi:Q",
        y=alt.Y("n:Q", scale=S("H_y"), axis=yaxis(477.3, "Observations", [0, 10, 20, 30], tick=8,
                                                 pad=8, tpad=8, lsize=16)),
        y2=alt.Y2Datum(0)),
    hatch_layer(hatch_df([(r.lo, r.hi, 0, r.n) for r in h_df.itertuples()], "H_x", "H_y", 6.0),
                "H_x", "H_y", 2.2),
    alt.Chart(h_df).mark_rect(fillOpacity=0, stroke="#e8161e", strokeWidth=1.8).encode(
        x=alt.X("lo:Q", scale=S("H_x"), axis=None), x2="hi:Q",
        y=alt.Y("n:Q", scale=S("H_y"), axis=None), y2=alt.Y2Datum(0)),
    alt.Chart(h_fit).mark_line(color="#ff1f1f", strokeWidth=2.4, interpolate="monotone").encode(
        x=alt.X("t:Q", scale=S("H_x"), axis=None), y=alt.Y("v:Q", scale=S("H_y"), axis=None)),
]

# ---------------------------- panel letters ----------------------------
for s, x, y, fs in [("A", 10, 23, 26), ("B", 400, 23, 26), ("C", 10, 335, 26), ("D", 400, 335, 26),
                    ("E", 10, 652, 26), ("F", 400, 652, 26), ("G", 9, 1003, 24.5), ("H", 400, 994, 26)]:
    layers.append(text(s, x, y, fs, "black", "bold"))

chart = (
    alt.layer(*layers)
    .resolve_scale(x="independent", y="independent")
    .resolve_axis(x="independent", y="independent")
    .properties(width=W, height=H, padding=0, autosize=alt.AutoSizeParams(type="none"),
                background="white")
    .configure_view(stroke=None)
    .configure_axis(grid=False, domainColor="black", tickColor="black", labelColor="black",
                    titleColor="black", domainWidth=2, tickWidth=2, labelFont=FONT, titleFont=FONT,
                    titleFontWeight="normal", labelFontWeight="normal")
)

chart.save("out.html", embed_options={"renderer": "svg", "actions": False})
